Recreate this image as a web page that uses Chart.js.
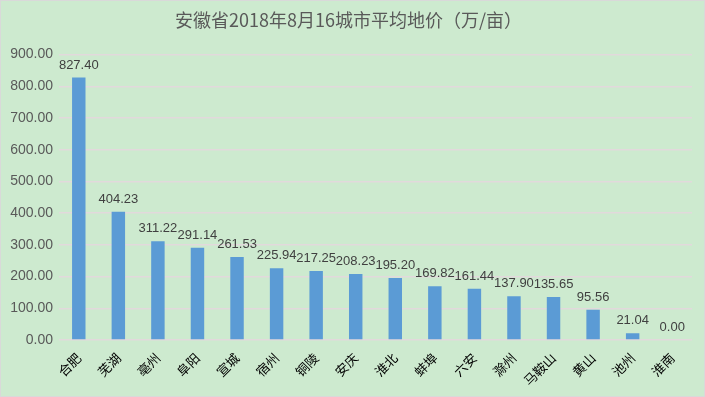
<!DOCTYPE html>
<html>
<head>
<meta charset="utf-8">
<script src="https://cdn.jsdelivr.net/npm/chart.js@4/dist/chart.umd.min.js"></script>
<style>
    html, body { margin: 0; padding: 0; background: #d9d9d9; }
    #wrap { position: absolute; left: 1px; top: 1px; width: 703px; height: 395px; background: #cdeacf; }
</style>
</head>
<body>
<div id="wrap"><canvas id="chart" width="703" height="395"></canvas></div>
<script>
// 安徽省16城市平均地价
const cities = ['合肥', '芜湖', '亳州', '阜阳', '宣城', '宿州', '铜陵', '安庆', '淮北', '蚌埠', '六安', '滁州', '马鞍山', '黄山', '池州', '淮南'];
const prices = [827.40, 404.23, 311.22, 291.14, 261.53, 225.94, 217.25, 208.23, 195.20, 169.82, 161.44, 137.90, 135.65, 95.56, 21.04, 0.00];
const yTicks = [0, 100, 200, 300, 400, 500, 600, 700, 800, 900];

const fontCN = '"Noto Sans CJK SC", "Noto Sans", sans-serif';
const fontNum = '"Liberation Sans", "DejaVu Sans", sans-serif';

// valeurs au-dessus des barres
const valueLabels = {
    id: 'valueLabels',
    afterDatasetsDraw(chart) {
        const ctx = chart.ctx;
        const meta = chart.getDatasetMeta(0);
        ctx.save();
        ctx.font = '13px ' + fontNum;
        ctx.fillStyle = '#404040';
        ctx.textAlign = 'center';
        ctx.textBaseline = 'bottom';
        meta.data.forEach(function(bar, i) {
            ctx.fillText(prices[i].toFixed(2), bar.x, bar.y - 6);
        });
        ctx.restore();
    }
};

new Chart(document.getElementById('chart'), {
    type: 'bar',
    data: {
        labels: cities,
        datasets: [{
            data: prices,
            backgroundColor: '#5b9bd5',
            barPercentage: 0.34,
            categoryPercentage: 1.0
        }]
    },
    options: {
        responsive: false,
        animation: false,
        devicePixelRatio: 1,
        layout: { padding: { left: 4, right: 12, top: 8, bottom: 6 } },
        plugins: {
            legend: { display: false },
            tooltip: { enabled: false },
            title: {
                display: true,
                text: '安徽省2018年8月16城市平均地价（万/亩）',
                color: '#595959',
                font: { family: fontCN, size: 18, weight: 'normal' },
                padding: { top: 0, bottom: 24 }
            }
        },
        scales: {
            x: {
                grid: { display: false },
                border: { display: false },
                afterFit(axis) { axis.height = 50; },
                ticks: {
                    color: '#000000',
                    font: { family: fontCN, size: 13 },
                    minRotation: 45,
                    maxRotation: 45,
                    padding: 2
                }
            },
            y: {
                min: 0,
                max: 900,
                afterBuildTicks(axis) {
                    axis.ticks = yTicks.map(function(v) { return { value: v }; });
                },
                afterFit(axis) { axis.width = 54; },
                grid: { color: '#e2d9dc', lineWidth: 1.5, drawTicks: false },
                border: { display: false },
                ticks: {
                    color: '#595959',
                    font: { family: fontNum, size: 14 },
                    padding: 6,
                    callback: function(v) { return v.toFixed(2); }
                }
            }
        }
    },
    plugins: [valueLabels]
});
</script>
</body>
</html>
